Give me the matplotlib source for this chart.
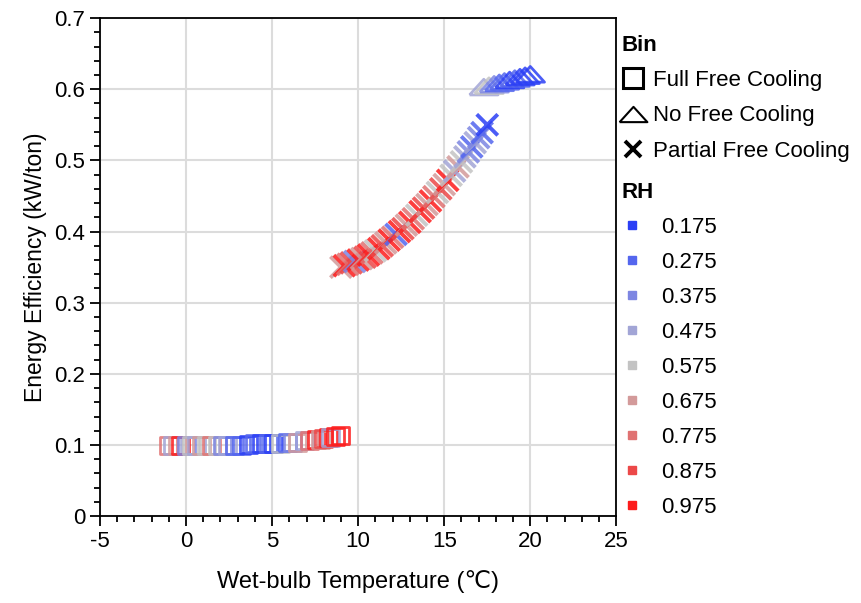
import matplotlib
matplotlib.use("Agg")
import matplotlib.pyplot as plt
from matplotlib.lines import Line2D
from matplotlib.ticker import MultipleLocator

plt.rcParams['font.family'] = ['Liberation Sans', 'DejaVu Sans']
plt.rcParams['axes.unicode_minus'] = False

# RH levels and colours
rh_levels = [0.175, 0.275, 0.375, 0.475, 0.575, 0.675, 0.775, 0.875, 0.975]
rh_colors = ['#2b3ff5', '#5466ee', '#7d86e2', '#a2a5d6', '#c3c3c3',
             '#d39a9a', '#e07272', '#ec4848', '#fd1c1c']

# Full Free Cooling (squares)
full_x = [-1.0, -0.8, -0.5, -0.3, 0.0, 0.3, 0.6, 0.9, 1.2, 1.5, 1.8, 2.1, 2.4,
          2.8, 3.2, 3.6, 4.0, 4.4, 4.8, 5.1, 5.5, 5.9, 6.2, 6.5, 6.9, 7.2,
          7.6, 7.8, 8.0, 8.3, 8.4, 8.7, 9.0]
full_y = [0.100, 0.100, 0.100, 0.100, 0.100, 0.100, 0.100, 0.100, 0.100, 0.100,
          0.100, 0.100, 0.100, 0.100, 0.100, 0.101, 0.102, 0.102, 0.102, 0.102,
          0.102, 0.103, 0.104, 0.104, 0.106, 0.107, 0.108, 0.108, 0.109, 0.111,
          0.111, 0.112, 0.114]
full_rh = [0.775, 0.475, 0.675, 0.975, 0.375, 0.575, 0.475, 0.675, 0.575, 0.775,
           0.575, 0.375, 0.475, 0.275, 0.275, 0.175, 0.275, 0.175, 0.275, 0.175,
           0.575, 0.275, 0.375, 0.675, 0.475, 0.775, 0.975, 0.675, 0.875, 0.975,
           0.475, 0.975, 0.975]

# Partial Free Cooling (crosses)
part_x = [9.0, 9.2, 9.4, 9.6, 9.8, 10.0, 10.2, 10.4, 10.6, 10.8, 11.0, 11.2,
          11.4, 11.6, 11.8, 12.0, 12.2, 12.4, 12.6, 12.8, 13.0, 13.2, 13.4,
          13.6, 13.8, 14.0, 14.2, 14.4, 14.6, 14.8, 15.0, 15.2, 15.4, 15.6,
          15.8, 16.0, 16.2, 16.4, 16.6, 16.8, 17.0, 17.2, 17.5]
part_y = [0.350, 0.352, 0.354, 0.356, 0.358, 0.360, 0.362, 0.364, 0.367, 0.370,
          0.373, 0.376, 0.380, 0.384, 0.388, 0.392, 0.396, 0.400, 0.404, 0.409,
          0.413, 0.418, 0.423, 0.428, 0.433, 0.438, 0.443, 0.449, 0.455, 0.460,
          0.466, 0.472, 0.479, 0.485, 0.491, 0.498, 0.505, 0.512, 0.519, 0.525,
          0.532, 0.539, 0.550]
part_rh = [0.675, 0.975, 0.775, 0.875, 0.375, 0.975, 0.675, 0.875, 0.975, 0.775,
           0.575, 0.975, 0.875, 0.675, 0.975, 0.775, 0.275, 0.975, 0.875, 0.675,
           0.975, 0.775, 0.575, 0.975, 0.875, 0.675, 0.975, 0.775, 0.575, 0.875,
           0.675, 0.975, 0.575, 0.475, 0.675, 0.575, 0.475, 0.375, 0.275, 0.475,
           0.375, 0.275, 0.175]

# No Free Cooling (triangles)
no_x = [17.3, 17.6, 17.9, 18.2, 18.5, 18.8, 19.1, 19.4, 19.7, 20.0]
no_y = [0.603, 0.605, 0.607, 0.609, 0.611, 0.613, 0.615, 0.617, 0.619, 0.621]
no_rh = [0.475, 0.575, 0.375, 0.275, 0.275, 0.175, 0.275, 0.175, 0.175, 0.175]

# flat, wide triangle like the original
tri = [(-1.0, -0.55), (1.0, -0.55), (0.0, 0.55), (-1.0, -0.55)]


def col(vals):
    return [rh_colors[rh_levels.index(v)] for v in vals]


fig = plt.figure(figsize=(8.62, 6.03), dpi=100)
ax = fig.add_axes([0.116, 0.144, 0.599, 0.826])

ax.scatter(full_x, full_y, marker='s', s=150, facecolors='none',
           edgecolors=col(full_rh), linewidths=2, alpha=0.85, zorder=3)
ax.scatter(part_x, part_y, marker='x', s=230, c=col(part_rh),
           linewidths=2.8, alpha=0.85, zorder=3)
ax.scatter(no_x, no_y, marker=tri, s=420, facecolors='none',
           edgecolors=col(no_rh), linewidths=2, alpha=0.85, zorder=3)

ax.set_xlim(-5, 25)
ax.set_ylim(0, 0.7)
ax.xaxis.set_major_locator(MultipleLocator(5))
ax.xaxis.set_minor_locator(MultipleLocator(1))
ax.yaxis.set_major_locator(MultipleLocator(0.1))
ax.yaxis.set_minor_locator(MultipleLocator(0.02))
ax.yaxis.set_major_formatter(plt.FuncFormatter(lambda v, p: '0' if abs(v) < 1e-9 else f'{v:.1f}'))
ax.tick_params(which='major', length=7, width=1.3, labelsize=16, direction='out')
ax.tick_params(which='minor', length=4, width=1.3, direction='out')
ax.grid(True, which='major', color='#dcdcdc', linewidth=1.5, zorder=0)
ax.set_axisbelow(True)
for sp in ax.spines.values():
    sp.set_linewidth(1.3)

ax.set_xlabel('Wet-bulb Temperature (℃)', fontsize=17, labelpad=13)
ax.set_ylabel('Energy Efficiency (kW/ton)', fontsize=16.5, labelpad=5)

bin_handles = [
    Line2D([], [], marker='s', ls='', mfc='none', mec='black', mew=2.2, ms=15),
    Line2D([], [], marker=tri, ls='', mfc='none', mec='black', mew=1.5, ms=20),
    Line2D([], [], marker='x', ls='', color='black', mew=2.8, ms=11),
]
bin_labels = ['Full Free Cooling', 'No Free Cooling', 'Partial Free Cooling']
fig.legend(bin_handles, bin_labels, title='Bin', loc='upper left',
           bbox_to_anchor=(0.703, 0.968), frameon=False, fontsize=16,
           title_fontproperties={'weight': 'bold', 'size': 16},
           alignment='left', handlelength=1.0, handletextpad=0.4,
           labelspacing=0.64, borderpad=0.2)

rh_handles = [Line2D([], [], marker='s', ls='', color=c, ms=6) for c in rh_colors]
rh_labels = [f'{v:.3f}' for v in rh_levels]
fig.legend(rh_handles, rh_labels, title='RH', loc='upper left',
           bbox_to_anchor=(0.703, 0.724), frameon=False, fontsize=16,
           title_fontproperties={'weight': 'bold', 'size': 16},
           alignment='left', handlelength=0.9, handletextpad=0.9,
           labelspacing=0.63, borderpad=0.2)

fig.savefig('out.png', dpi=100)
